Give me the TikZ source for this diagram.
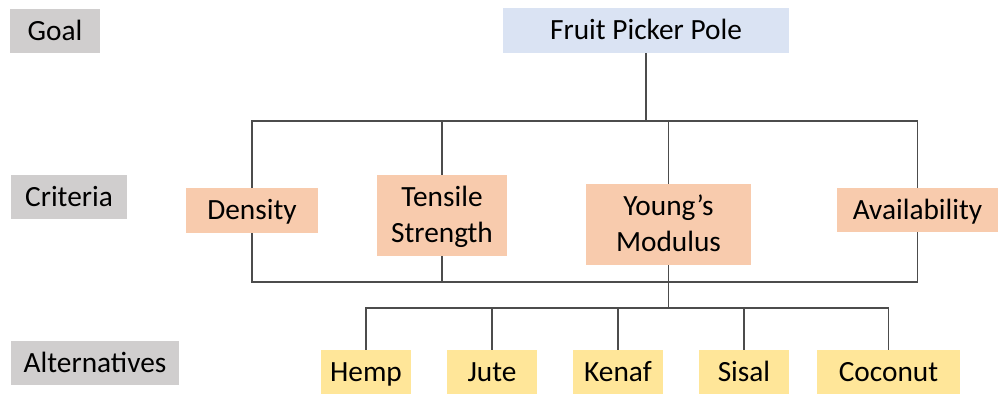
\documentclass[tikz,border=0pt]{standalone}
\usepackage{fontspec}
\setmainfont{Carlito}
\usepackage{tikz}
\usetikzlibrary{positioning,calc}
\definecolor{levelgray}{HTML}{D0CECE}
\definecolor{goalblue}{HTML}{DAE3F3}
\definecolor{critorange}{HTML}{F8CBAD}
\definecolor{altyellow}{HTML}{FFE699}

\begin{document}
\begin{tikzpicture}[x=0.75pt,y=-0.75pt,
  box/.style={inner sep=0pt,minimum height=44*0.75pt,align=center,
    font=\fontsize{22}{27}\selectfont,text depth=0pt},
  oneline/.style={text height=14.2pt},
  twoline/.style={text height=41.2pt},
  level/.style={box,oneline,fill=levelgray},
  goalbox/.style={box,oneline,fill=goalblue},
  critbox/.style={box,fill=critorange},
  altbox/.style={box,oneline,fill=altyellow,minimum width=90*0.75pt},
  link/.style={draw=black!70,line width=0.8pt}]
  \useasboundingbox (0,0) rectangle (998,394);
  % levels
  \node[level,minimum width=90*0.75pt] (goal) at (55,31) {Goal};
  \node[level,minimum width=116*0.75pt] (crit) at (69,197) {Criteria};
  \node[level,minimum width=168*0.75pt] (alts) at (95,363) {Alternatives};
  % goal
  \node[goalbox,minimum width=286*0.75pt,minimum height=45*0.75pt] (pole) at (646,30.5) {Fruit Picker Pole};
  % criteria
  \node[critbox,oneline,minimum width=132*0.75pt,minimum height=45*0.75pt] (density) at (252,210.5) {Density};
  \node[critbox,twoline,minimum width=130*0.75pt,minimum height=81*0.75pt] (tensile) at (442,215.5) {Tensile\\Strength};
  \node[critbox,twoline,minimum width=165*0.75pt,minimum height=81*0.75pt] (young) at (668.5,224.5) {Young’s\\Modulus};
  \node[critbox,oneline,minimum width=161*0.75pt] (avail) at (917.5,210) {Availability};
  % alternatives
  \node[altbox] (hemp) at (366,372) {Hemp};
  \node[altbox] (jute) at (492,372) {Jute};
  \node[altbox] (kenaf) at (618,372) {Kenaf};
  \node[altbox] (sisal) at (744,372) {Sisal};
  \node[altbox,minimum width=143*0.75pt] (coconut) at (888.5,372) {Coconut};
  % buses
  \coordinate (topbus) at (0,121);
  \coordinate (midbus) at (0,282);
  \coordinate (altbus) at (0,308);
  % goal to criteria
  \draw[link] (pole.south) -- (pole.south |- topbus);
  \draw[link] (density.north) -- (density.north |- topbus) -- (avail.north |- topbus) -- (avail.north);
  \foreach \c in {tensile,young}
    \draw[link] (\c.north) -- (\c.north |- topbus);
  % criteria to alternatives
  \draw[link] (density.south) -- (density.south |- midbus) -- (avail.south |- midbus) -- (avail.south);
  \draw[link] (tensile.south) -- (tensile.south |- midbus);
  \draw[link] (young.south) -- (young.south |- altbus);
  \draw[link] (hemp.north) -- (hemp.north |- altbus) -- (coconut.north |- altbus) -- (coconut.north);
  \foreach \a in {jute,kenaf,sisal}
    \draw[link] (\a.north) -- (\a.north |- altbus);
\end{tikzpicture}
\end{document}
